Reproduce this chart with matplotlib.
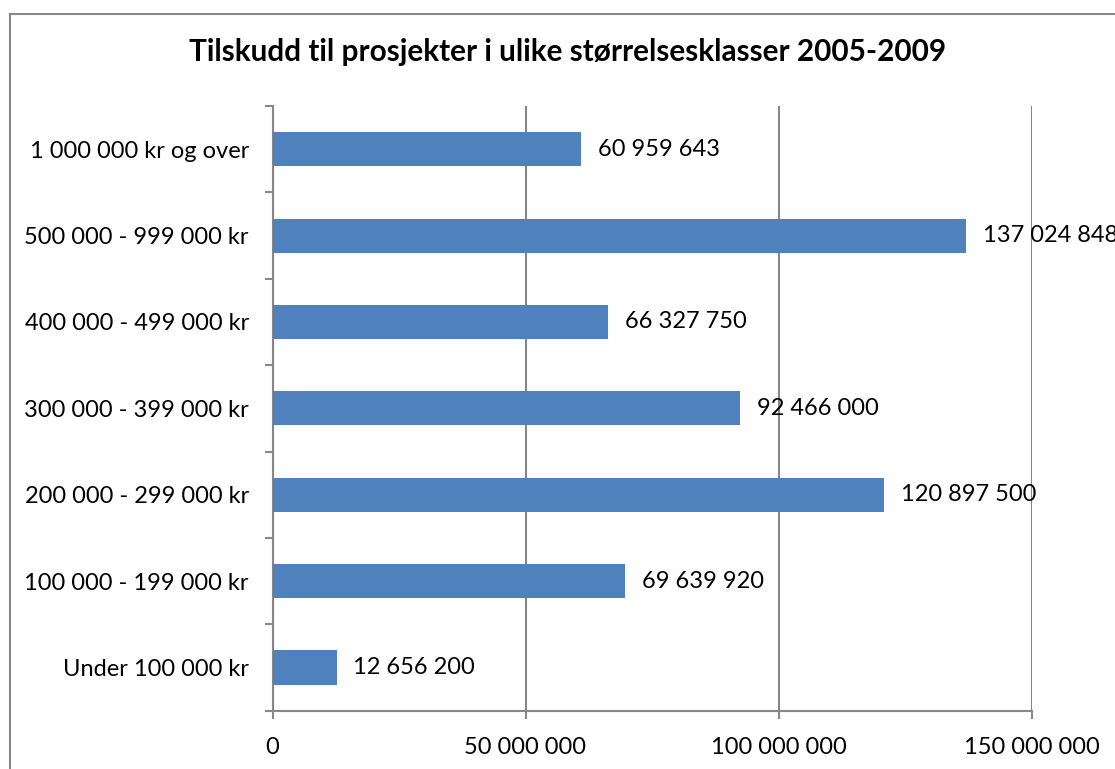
import matplotlib.pyplot as plt
from matplotlib.patches import Rectangle

plt.rcParams["font.family"] = ["Lato", "DejaVu Sans"]

categories = [
    "Under 100 000 kr",
    "100 000 - 199 000 kr",
    "200 000 - 299 000 kr",
    "300 000 - 399 000 kr",
    "400 000 - 499 000 kr",
    "500 000 - 999 000 kr",
    "1 000 000 kr og over",
]
values = [12656200, 69639920, 120897500, 92466000, 66327750, 137024848, 60959643]
xticks = [0, 50000000, 100000000, 150000000]
title = "Tilskudd til prosjekter i ulike størrelsesklasser 2005-2009"

grey = "#878787"


def fmt(v):
    return f"{v:,}".replace(",", " ")


W, H = 1115, 769
fig = plt.figure(figsize=(W / 100, H / 100), dpi=100)
ax = fig.add_axes([272.5 / W, 1 - 710.7 / H, (1031.5 - 272.5) / W, (710.7 - 106) / H])

# outer chart frame (runs off the right and bottom edges)
fig.patches.append(Rectangle((9.5 / W, -0.1), 1.2, 1 - 13.5 / H + 0.1,
                             transform=fig.transFigure, fill=False,
                             edgecolor=grey, linewidth=1.5))

pos = list(range(len(categories)))
bars = ax.barh(pos, values, height=0.395, color="#4F81BD", zorder=3)

for y, v in zip(pos, values):
    ax.annotate(fmt(v), (v, y), xytext=(12, 0), textcoords="offset points",
                va="center", ha="left", fontsize=17, annotation_clip=False,
                zorder=4)

ax.set_xlim(0, 150000000)
ax.set_ylim(-0.5, len(categories) - 0.5)

ax.set_xticks(xticks)
ax.set_xticklabels([fmt(t) for t in xticks], fontsize=17)
ax.set_yticks(pos)
ax.set_yticklabels(categories, fontsize=17)
ax.set_yticks([p - 0.5 for p in range(len(categories) + 1)], minor=True)

ax.tick_params(axis="y", which="major", length=0, pad=17)
ax.tick_params(axis="y", which="minor", length=6, width=1.5, color=grey)
ax.tick_params(axis="x", length=6, width=1.5, color=grey, pad=13)

ax.grid(axis="x", color=grey, linewidth=1.5, zorder=1)
for s in ["top", "right"]:
    ax.spines[s].set_visible(False)
for s in ["left", "bottom"]:
    ax.spines[s].set_color(grey)
    ax.spines[s].set_linewidth(1.5)

fig.text(568 / W, 1 - 52 / H, title, ha="center", va="center",
         fontsize=21.4, fontweight="bold")

fig.savefig("out.png", dpi=100)
